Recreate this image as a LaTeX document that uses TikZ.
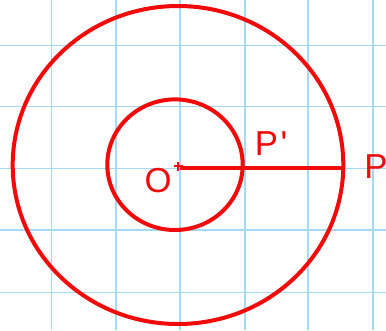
\documentclass[tikz,border=0pt]{standalone}
\usepackage{fontspec}
\setmainfont{Liberation Sans}
\definecolor{gridblue}{RGB}{165,218,245}
\definecolor{penred}{RGB}{240,10,10}
\begin{document}
\begin{tikzpicture}[x=0.75pt,y=-0.75pt,
  gridline/.style={gridblue,line width=1.1pt},
  pen/.style={penred,line width=3pt},
  lbl/.style={text=penred,font=\fontsize{26}{28}\selectfont,inner sep=0pt}]
\useasboundingbox (0,0) rectangle (386,330);
\fill[white] (0,0) rectangle (386,330);
% grid
\foreach \gx in {51.5,116,180,245,308,373}
  \draw[gridline] (\gx,0) -- (\gx,330);
\foreach \gy in {45.7,106.7,168.3,230,292.3}
  \draw[gridline] (0,\gy) -- (386,\gy);
% circles
\draw[pen] (178,165) ellipse [x radius=165.3, y radius=159];
\draw[pen] (175,164.7) ellipse [x radius=67.7, y radius=65.3];
% points
\coordinate (O) at (180,168.3);
\coordinate (P) at (343,168.3);
\draw[pen] (O) -- (P);
\draw[penred,line width=1.2pt] (174,166) -- (183,166) (178,161.5) -- (178,170.5);
% labels
\node[lbl] (Olbl) at (158,181) {O};
\node[lbl] (Pplbl) at (271,144) {P\kern2pt\textquotesingle};
\node[lbl] (Plbl) at (376,167) {P};
\end{tikzpicture}
\end{document}
